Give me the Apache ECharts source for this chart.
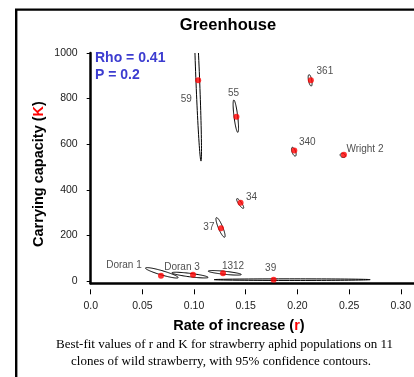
<!DOCTYPE html>
<html>
<head>
<meta charset="utf-8">
<script src="https://cdn.jsdelivr.net/npm/echarts@6/dist/echarts.min.js"></script>
<style>
  html, body { margin: 0; padding: 0; background: #fff; }
  #main { width: 414px; height: 377px; }
</style>
</head>
<body>
<div id="main"></div>
<script>
// best-fit r and K per clone
var clones = ['59', '55', '361', '340', 'Wright 2', '34', '37', 'Doran 1', 'Doran 3', '1312', '39'];
var rateR  = [0.104, 0.141, 0.213, 0.197, 0.245, 0.145, 0.126, 0.068, 0.099, 0.128, 0.177];
var capK   = [880, 720, 880, 572, 554, 343, 231, 23, 28, 34, 6];

// 95% contours: centre + two conjugate half axes (data units)
var ctrR   = [0.1036, 0.1404, 0.2123, 0.1965, 0.2439, 0.1446, 0.1256, 0.0688, 0.0961, 0.1297, 0.1949];
var ctrK   = [881, 723, 880, 567, 551, 340, 235, 36, 26, 36, 6];
var axisAR = [-0.0031, -0.0019, -0.0010, -0.0016, 0.0024, -0.0032, -0.0040, 0.0158, 0.0175, 0.0160, 0.0755];
var axisAK = [355, 71, 25, 19, -5, 21, 43, -21, -10, -7.5, 0];
var axisBR = [0.0018, 0.0018, 0.0016, 0.0016, 0.0008, 0.0012, 0.0019, 0.0006, 0.0002, 0.0001, 0];
var axisBK = [0, 0, 0, 3, 8, 4, 4, 9, 7.5, 6.6, 3.5];

var xTickLabels = ['0.0', '0.05', '0.10', '0.15', '0.20', '0.25', '0.30'];
var yTicks = [0, 200, 400, 600, 800, 1000];

// label placement, pixels from the dot
var labelOffset = {
  '59': [-12, 19], '55': [-3, -24], '361': [14, -9], '340': [13, -8],
  'Wright 2': [21, -5], '34': [11, -6], '37': [-12, -1], 'Doran 1': [-37, -11],
  'Doran 3': [-11, -7], '1312': [10, -7], '39': [-3, -11]
};

var font = 'Liberation Sans, Arial, sans-serif';
var myChart = echarts.init(document.getElementById('main'));

var contours = ctrR.map(function (r, i) {
  return [r, ctrK[i], axisAR[i], axisAK[i], axisBR[i], axisBK[i]];
});
var points = clones.map(function (n, i) {
  return { name: n, value: [rateR[i], capK[i]], label: { offset: labelOffset[n] } };
});

var option = {
  animation: false,
  backgroundColor: '#fff',
  grid: [
    { left: 90.7, right: 9, top: 53, bottom: 93.7 },
    { left: 90.7, right: 0, top: 53, bottom: 93.7 }
  ],
  xAxis: [
    {
      gridIndex: 0, type: 'value', min: 0, max: 0.3, interval: 0.05, offset: 6,
      axisLine: { show: false, onZero: false },
      axisTick: { show: true, length: 5, lineStyle: { color: '#000', width: 1 } },
      axisLabel: {
        margin: 11, fontSize: 10.5, fontFamily: font, color: '#222',
        formatter: function (v, i) { return xTickLabels[i]; }
      },
      splitLine: { show: false }
    },
    {
      gridIndex: 1, type: 'value', min: 0, max: 1,
      axisLine: { show: true, onZero: false, lineStyle: { color: '#000', width: 2.5 } },
      axisTick: { show: false }, axisLabel: { show: false }, splitLine: { show: false }
    }
  ],
  yAxis: [
    {
      gridIndex: 0, type: 'value', min: -10, max: 1000,
      axisLine: { show: true, onZero: false, lineStyle: { color: '#000', width: 2.5 } },
      axisTick: { show: true, length: 4, customValues: yTicks, lineStyle: { color: '#000', width: 1 } },
      axisLabel: {
        customValues: yTicks, margin: 13, fontSize: 10.5, fontFamily: font, color: '#222',
        formatter: function (v) { return String(v); }
      },
      splitLine: { show: false }
    },
    { gridIndex: 1, type: 'value', min: 0, max: 1, show: false }
  ],
  graphic: [
    { type: 'rect', shape: { x: 16.2, y: 9.6, width: 600, height: 600 },
      style: { fill: 'none', stroke: '#000', lineWidth: 2.4 }, z: 10 },
    { type: 'text', x: 228, y: 25,
      style: { text: 'Greenhouse', font: 'bold 16.5px ' + font, fill: '#000', align: 'center', verticalAlign: 'middle' } },
    { type: 'text', x: 95, y: 58,
      style: { text: 'Rho = 0.41', font: 'bold 14px ' + font, fill: '#3c3cd0', align: 'left', verticalAlign: 'middle' } },
    { type: 'text', x: 95, y: 75,
      style: { text: 'P = 0.2', font: 'bold 14px ' + font, fill: '#3c3cd0', align: 'left', verticalAlign: 'middle' } },
    { type: 'text', x: 39, y: 174, rotation: Math.PI / 2,
      style: {
        text: '{a|Carrying capacity (}{k|K}{a|)}', align: 'center', verticalAlign: 'middle',
        rich: {
          a: { font: 'bold 14.5px ' + font, fill: '#000' },
          k: { font: 'bold 14.5px ' + font, fill: '#ff0000' }
        }
      } },
    { type: 'text', x: 239, y: 326,
      style: {
        text: '{a|Rate of increase (}{k|r}{a|)}', align: 'center', verticalAlign: 'middle',
        rich: {
          a: { font: 'bold 14.5px ' + font, fill: '#000' },
          k: { font: 'bold 14.5px ' + font, fill: '#ff0000' }
        }
      } },
    { type: 'text', x: 224.5, y: 345,
      style: { text: 'Best-fit values of r and K for strawberry aphid populations on 11',
        font: '13px Liberation Serif, Times New Roman, serif', fill: '#000', align: 'center', verticalAlign: 'middle' } },
    { type: 'text', x: 221, y: 362,
      style: { text: 'clones of wild strawberry, with 95% confidence contours.',
        font: '13px Liberation Serif, Times New Roman, serif', fill: '#000', align: 'center', verticalAlign: 'middle' } }
  ],
  series: [
    {
      type: 'custom',
      xAxisIndex: 0, yAxisIndex: 0,
      z: 2,
      encode: { x: 0, y: 1 },
      data: contours,
      renderItem: function (params, api) {
        var cr = api.value(0), ck = api.value(1);
        var ar = api.value(2), ak = api.value(3), br = api.value(4), bk = api.value(5);
        var pts = [];
        for (var i = 0; i <= 90; i++) {
          var t = i / 90 * Math.PI * 2;
          pts.push(api.coord([cr + Math.cos(t) * ar + Math.sin(t) * br,
                              ck + Math.cos(t) * ak + Math.sin(t) * bk]));
        }
        var cs = params.coordSys;
        return {
          type: 'polygon',
          shape: { points: pts },
          style: { fill: 'none', stroke: '#000', lineWidth: 1 },
          clipPath: { type: 'rect', shape: { x: cs.x, y: cs.y, width: cs.width, height: cs.height } }
        };
      }
    },
    {
      type: 'scatter',
      xAxisIndex: 0, yAxisIndex: 0,
      z: 3,
      symbol: 'circle',
      symbolSize: 6,
      itemStyle: { color: '#ff0000' },
      label: {
        show: true, position: 'inside', formatter: '{b}',
        fontSize: 10, fontFamily: font, color: '#222'
      },
      data: points
    }
  ]
};

myChart.setOption(option);
</script>
</body>
</html>
